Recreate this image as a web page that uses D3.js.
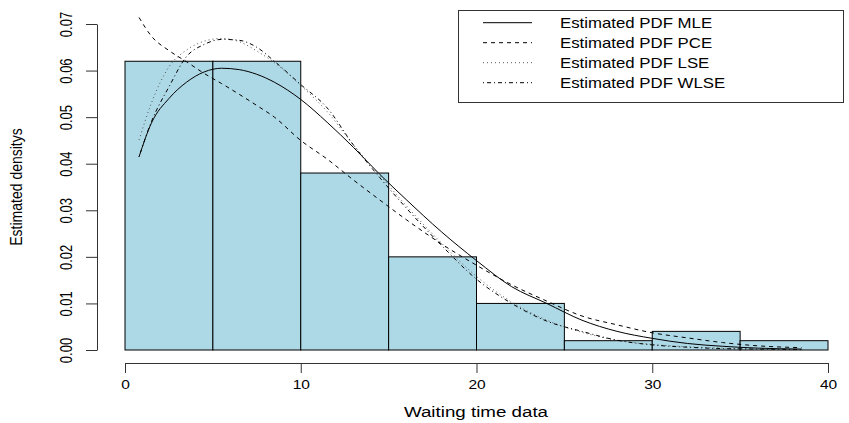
<!DOCTYPE html>
<html>
<head>
<meta charset="utf-8">
<script src="https://cdn.jsdelivr.net/npm/d3@7"></script>
<style>
  body { margin: 0; background: #fff; }
  svg { display: block; font-family: "Liberation Sans", Arial, sans-serif; }
</style>
</head>
<body>
<svg id="chart" width="849" height="423"></svg>
<script>
// Histogram of waiting times (density scale, bin width 5)
const binStarts = [0, 5, 10, 15, 20, 25, 30, 35];
const binWidth = 5;
const binDensity = [0.062, 0.062, 0.038, 0.020, 0.010, 0.002, 0.004, 0.002];

// Fitted density curves evaluated on a common grid
const gridX = [0.8, 1.5, 2.5, 3.5, 4.5, 5.5, 6.5, 7.5, 8.5, 10, 11.5, 13, 14.5, 16, 18, 20, 22, 24, 26, 28, 30, 32, 34, 36, 38.5];
const pdfMLE  = [0.0415, 0.0487, 0.0540, 0.0575, 0.0597, 0.0605, 0.0602, 0.0592, 0.0575, 0.0538, 0.0489, 0.0435, 0.0377, 0.0323, 0.0254, 0.0192, 0.0136, 0.0100, 0.0064, 0.0040, 0.0025, 0.0014, 0.0008, 0.0004, 0.0002];
const pdfPCE  = [0.0714, 0.0674, 0.0643, 0.0619, 0.0594, 0.0572, 0.0549, 0.0525, 0.0500, 0.0450, 0.0410, 0.0365, 0.0322, 0.0280, 0.0228, 0.0182, 0.0140, 0.0105, 0.0073, 0.0054, 0.0037, 0.0026, 0.0016, 0.0009, 0.0005];
const pdfLSE  = [0.0451, 0.0530, 0.0608, 0.0644, 0.0663, 0.0669, 0.0662, 0.0642, 0.0617, 0.0568, 0.0512, 0.0440, 0.0375, 0.0310, 0.0230, 0.0158, 0.0103, 0.0064, 0.0038, 0.0021, 0.0012, 0.0007, 0.0004, 0.0002, 0.0001];
const pdfWLSE = [0.0415, 0.0490, 0.0565, 0.0630, 0.0656, 0.0667, 0.0665, 0.0650, 0.0620, 0.0570, 0.0520, 0.0440, 0.0370, 0.0305, 0.0225, 0.0152, 0.0100, 0.0062, 0.0040, 0.0021, 0.0011, 0.0006, 0.0003, 0.0002, 0.0001];

const seriesNames = ["Estimated PDF MLE", "Estimated PDF PCE", "Estimated PDF LSE", "Estimated PDF WLSE"];
const seriesDash = [null, "4,4", "1,3", "1,3,4,3"];
const seriesColor = ["#000", "#000", "#555", "#000"];
const seriesValues = [pdfMLE, pdfPCE, pdfLSE, pdfWLSE];

const xTicks = [0, 10, 20, 30, 40];
const yTicks = [0, 0.01, 0.02, 0.03, 0.04, 0.05, 0.06, 0.07];

const svg = d3.select("#chart");
const x = d3.scaleLinear().domain([0, 40]).range([125, 828]);
const y = d3.scaleLinear().domain([0, 0.07]).range([350, 24]);

// bars
svg.append("g").selectAll("rect")
  .data(binStarts)
  .join("rect")
  .attr("x", (d) => x(d))
  .attr("width", (d) => x(d + binWidth) - x(d))
  .attr("y", (d, i) => y(binDensity[i]))
  .attr("height", (d, i) => y(0) - y(binDensity[i]))
  .attr("fill", "#add8e6")
  .attr("stroke", "#000")
  .attr("stroke-width", 1);

// curves
const line = d3.line()
  .x((d) => x(d[0]))
  .y((d) => y(d[1]))
  .curve(d3.curveMonotoneX);

seriesValues.forEach((vals, k) => {
  svg.append("path")
    .datum(gridX.map((gx, i) => [gx, vals[i]]))
    .attr("d", line)
    .attr("fill", "none")
    .attr("stroke", seriesColor[k])
    .attr("stroke-width", 1)
    .attr("stroke-dasharray", seriesDash[k]);
});

// x axis
const xAxis = svg.append("g")
  .attr("transform", "translate(0,363)")
  .call(d3.axisBottom(x).tickValues(xTicks).tickFormat(d3.format("d")).tickSize(10).tickSizeOuter(0).tickPadding(6));
xAxis.select(".domain").attr("stroke", "#333");
xAxis.selectAll(".tick line").attr("stroke", "#333");
xAxis.selectAll("text")
  .attr("font-size", 13.5)
  .attr("fill", "#000")
  .attr("font-family", "Liberation Sans, Arial, sans-serif")
  .attr("transform", "scale(1.15,1)");

// y axis
const yAxis = svg.append("g")
  .attr("transform", "translate(97,0)")
  .call(d3.axisLeft(y).tickValues(yTicks).tickFormat(d3.format(".2f")).tickSize(11).tickSizeOuter(0));
yAxis.select(".domain").attr("stroke", "#333");
yAxis.selectAll(".tick line").attr("stroke", "#333");
yAxis.selectAll("text")
  .attr("font-size", 13)
  .attr("fill", "#000")
  .attr("font-family", "Liberation Sans, Arial, sans-serif")
  .attr("transform", "rotate(-90) scale(1,1.2)")
  .attr("text-anchor", "middle")
  .attr("x", 0)
  .attr("y", -21)
  .attr("dy", null);

// axis titles
svg.append("text")
  .attr("transform", "translate(476,417) scale(1.25,1)")
  .attr("text-anchor", "middle")
  .attr("font-size", 15)
  .text("Waiting time data");

svg.append("text")
  .attr("transform", "translate(22,187) rotate(-90) scale(1,1.2)")
  .attr("text-anchor", "middle")
  .attr("font-size", 14)
  .text("Estimated  densitys");

// legend
const legend = svg.append("g");
legend.append("rect")
  .attr("x", 458.5).attr("y", 10.5)
  .attr("width", 385).attr("height", 92)
  .attr("fill", "#fff")
  .attr("stroke", "#333");

seriesNames.forEach((name, k) => {
  const cy = 22.7 + k * 20;
  legend.append("line")
    .attr("x1", 483).attr("x2", 532)
    .attr("y1", cy).attr("y2", cy)
    .attr("stroke", seriesColor[k])
    .attr("stroke-dasharray", seriesDash[k]);
  legend.append("text")
    .attr("transform", `translate(560,${cy}) scale(1.2,1)`)
    .attr("dy", "0.35em")
    .attr("font-size", 14)
    .text(name);
});
</script>
</body>
</html>
